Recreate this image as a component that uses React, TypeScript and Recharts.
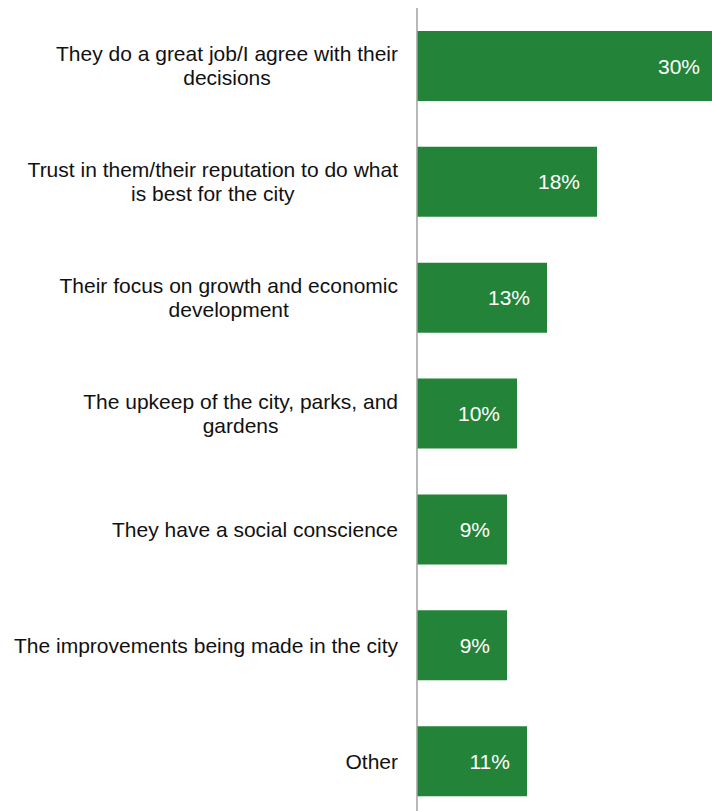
import { BarChart, Bar, XAxis, YAxis, LabelList } from "recharts";

const CATEGORIES = [
  "They do a great job/I agree with their decisions",
  "Trust in them/their reputation to do what is best for the city",
  "Their focus on growth and economic development",
  "The upkeep of the city, parks, and gardens",
  "They have a social conscience",
  "The improvements being made in the city",
  "Other",
];

// how each category label wraps in the reference
const LABEL_LINES = [
  ["They do a great job/I agree with their", "decisions"],
  ["Trust in them/their reputation to do what", "is best for the city"],
  ["Their focus on growth and economic", "development"],
  ["The upkeep of the city, parks, and", "gardens"],
  ["They have a social conscience"],
  ["The improvements being made in the city"],
  ["Other"],
];

const VALUES = [30, 18, 13, 10, 9, 9, 11];

const data = CATEGORIES.map((name, i) => ({ name, value: VALUES[i] }));

const FONT = "'Liberation Sans', Arial, sans-serif";
const FONT_SIZE = 21;
const LINE_HEIGHT = 24;
const BAR_COLOR = "#238439";

let ctx: CanvasRenderingContext2D | null = null;
function textWidth(s: string) {
  if (!ctx) ctx = document.createElement("canvas").getContext("2d");
  if (!ctx) return s.length * FONT_SIZE * 0.5;
  ctx.font = `${FONT_SIZE}px ${FONT}`;
  return ctx.measureText(s).width;
}

function CategoryTick({ x, y, payload }: any) {
  const idx = CATEGORIES.indexOf(payload.value);
  const lines = LABEL_LINES[idx] || [payload.value];
  const blockWidth = Math.max(...lines.map(textWidth));
  const cx = x - blockWidth / 2;
  const top = y - ((lines.length - 1) * LINE_HEIGHT) / 2;
  return (
    <g>
      {lines.map((line, i) => (
        <text
          key={i}
          x={cx}
          y={top + i * LINE_HEIGHT}
          textAnchor="middle"
          dominantBaseline="central"
          fontFamily={FONT}
          fontSize={FONT_SIZE}
          fill="#111"
        >
          {line}
        </text>
      ))}
    </g>
  );
}

function ValueLabel(props: any) {
  const { x, y, width, height, value } = props;
  return (
    <text
      x={x + width - 17}
      y={y + height / 2}
      textAnchor="end"
      dominantBaseline="central"
      fontFamily={FONT}
      fontSize={FONT_SIZE}
      fill="#fff"
    >
      {value}%
    </text>
  );
}

export default function App() {
  return (
    <div
      style={{
        position: "absolute",
        left: 0,
        top: 0,
        width: 712,
        height: 811,
        overflow: "hidden",
        background: "#fff",
      }}
    >
      <BarChart
        layout="vertical"
        width={730}
        height={819}
        data={data}
        margin={{ top: 8, right: 13, bottom: 0, left: 0 }}
      >
        <XAxis type="number" hide domain={[0, 30]} />
        <YAxis
          type="category"
          dataKey="name"
          width={417}
          axisLine={{ stroke: "#A0A0A0", strokeWidth: 1.5 }}
          tickLine={false}
          tickSize={0}
          tickMargin={19}
          interval={0}
          tick={<CategoryTick />}
        />
        <Bar dataKey="value" fill={BAR_COLOR} barSize={70} isAnimationActive={false}>
          <LabelList dataKey="value" content={<ValueLabel />} />
        </Bar>
      </BarChart>
    </div>
  );
}
